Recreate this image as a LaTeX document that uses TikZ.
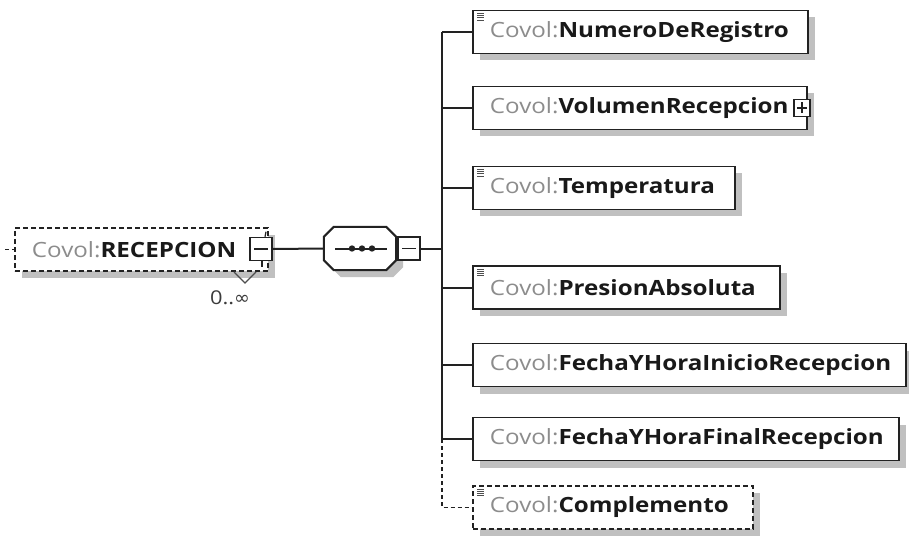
\documentclass[tikz,border=0pt]{standalone}
\usepackage{fontspec}
\setmainfont{Open Sans}[FakeStretch=1.15]
\newfontfamily\symfont{DejaVu Sans}
\usepackage{xcolor}
\definecolor{xsline}{RGB}{34,34,34}
\definecolor{xsgray}{RGB}{140,140,140}
\definecolor{xsshadow}{RGB}{192,192,192}
\definecolor{xsname}{RGB}{25,25,25}
\usetikzlibrary{shadows,calc}
\newcommand{\covol}[1]{\textcolor{xsgray}{Covol:}\textcolor{xsname}{\bfseries #1}}
% octagon of the sequence compositor round node #1
\newcommand{\octa}[1]{([xshift=10pt]#1.north west) -- ([xshift=-10pt]#1.north east)
  -- ([yshift=-10pt]#1.north east) -- ([yshift=10pt]#1.south east)
  -- ([xshift=-10pt]#1.south east) -- ([xshift=10pt]#1.south west)
  -- ([yshift=10pt]#1.south west) -- ([yshift=-10pt]#1.north west) -- cycle}

\begin{document}
\begin{tikzpicture}[x=1pt, y=-1pt,
  ebox/.style={rectangle, draw=xsline, line width=1.9pt, fill=white, anchor=west,
               minimum height=43pt, inner xsep=17pt, inner ysep=0pt, align=left,
               font=\fontsize{21}{25}\selectfont,
               general shadow={fill=xsshadow, shadow xshift=7pt, shadow yshift=-7pt}},
  dashpat/.style={dash pattern=on 5pt off 3pt},
  tog/.style={rectangle, draw=xsline, line width=1.5pt, fill=white,
              minimum width=22pt, minimum height=23pt, inner sep=0pt,
              path picture={\draw[xsline, line width=1.3pt]
                ([xshift=4pt]path picture bounding box.west) -- ([xshift=-4pt]path picture bounding box.east);}},
  plus/.style={tog, minimum width=16pt, minimum height=17pt,
              path picture={\draw[xsline, line width=1.3pt]
                ([xshift=3pt]path picture bounding box.west) -- ([xshift=-3pt]path picture bounding box.east)
                ([yshift=-3pt]path picture bounding box.north) -- ([yshift=3pt]path picture bounding box.south);}},
  seqbox/.style={rectangle, minimum width=72pt, minimum height=43pt, inner sep=0pt},
  conn/.style={draw=xsline, line width=2pt},
  dconn/.style={conn, line width=1.6pt, dash pattern=on 4pt off 3pt},
  docico/.pic={\foreach \k in {0,2.2,4.4,6.6} \draw[xsline!80, line width=0.9pt] (0,\k) -- (7,\k);}
]
\useasboundingbox (0,0) rectangle (909,537);

% Root element
\node[ebox, dashpat, text width=219pt] (rec) at (14,249.5) {\covol{RECEPCION}};
\node[tog] (recm) at (261,249) {};
\draw[conn, line width=1.2pt] ([xshift=4pt]recm.north) -- ++(1,-5);
\draw[conn, line width=1.2pt] ([xshift=1pt]recm.south) -- ++(0,6);
\draw[xsline!80, line width=1.3pt] (234,272) -- (245,283) -- (256,272);
\node[font=\fontsize{19}{22}\selectfont, text=xsname!85] (occ) at (230,298) {0..{\symfont ∞}};

% Sequence compositor
\node[seqbox] (seq) at (360,248.5) {};
\fill[xsshadow, transform canvas={xshift=7pt, yshift=-7pt}] \octa{seq};
\filldraw[conn, fill=white] \octa{seq};
\node[tog] (seqm) at (409,248.5) {};
\draw[conn] ([xshift=-25pt]seq.center) -- ([xshift=27pt]seq.center);
\foreach \d in {-8,2,12} \fill[xsline] ([xshift=\d pt]seq.center) circle (3.2pt);

% Child elements
\node[ebox, text width=301pt] (num) at (472,32) {\covol{NumeroDeRegistro}};
\node[ebox, text width=300pt] (vol) at (472,108) {\covol{VolumenRecepcion}};
\node[plus] (volp) at ([xshift=-6pt]vol.east) {};
\node[ebox, text width=228pt] (tem) at (472,188) {\covol{Temperatura}};
\node[ebox, text width=273pt] (pre) at (472,287.5) {\covol{PresionAbsoluta}};
\node[ebox, text width=399pt] (fin) at (472,365) {\covol{FechaYHoraInicioRecepcion}};
\node[ebox, text width=392pt] (ffi) at (472,439) {\covol{FechaYHoraFinalRecepcion}};
\node[ebox, dashpat, text width=246pt] (com) at (472,507.5) {\covol{Complemento}};
\foreach \n in {num,tem,pre,com} \pic at ([shift={(5,4)}]\n.north west) {docico};

% Connectors
\coordinate (rin) at (5,249.5);
\coordinate (btop) at (442,32);
\coordinate (bbot) at (442,439);
\draw[dconn] (rin) -- (rec.west);
\draw[conn] (recm.east) -- (seq.west);
\draw[conn] (seqm.east) -- (seqm.east -| btop);
\draw[conn] (btop) -- (bbot);
\foreach \n in {num,vol,tem,pre,fin,ffi} \draw[conn] (\n.west -| btop) -- (\n.west);
\draw[dconn] (bbot) |- (com.west);
\end{tikzpicture}
\end{document}
